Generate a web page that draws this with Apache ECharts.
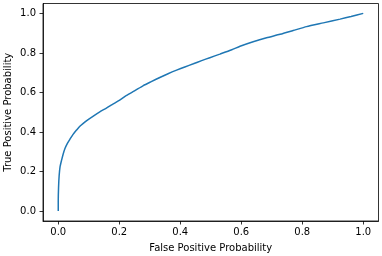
<!DOCTYPE html>
<html>
<head>
<meta charset="utf-8">
<script src="https://cdn.jsdelivr.net/npm/echarts@6/dist/echarts.min.js"></script>
<style>html,body{margin:0;padding:0;background:#fff;}#c{width:382px;height:256px;}</style>
</head>
<body>
<div id="c"></div>
<script>
var fpr = [0, 0, 0.001, 0.003, 0.006, 0.011, 0.016, 0.022, 0.030, 0.038, 0.048, 0.060, 0.070, 0.082, 0.098, 0.115, 0.135, 0.159, 0.178, 0.197, 0.224, 0.250, 0.279, 0.305, 0.333, 0.360, 0.388, 0.415, 0.443, 0.470, 0.497, 0.530, 0.569, 0.596, 0.639, 0.683, 0.727, 0.770, 0.814, 0.869, 0.924, 0.960, 1.0];
var tpr = [0, 0.05, 0.12, 0.18, 0.225, 0.258, 0.288, 0.317, 0.343, 0.363, 0.387, 0.41, 0.428, 0.444, 0.463, 0.481, 0.501, 0.522, 0.540, 0.557, 0.585, 0.608, 0.635, 0.655, 0.676, 0.695, 0.713, 0.729, 0.745, 0.761, 0.776, 0.794, 0.816, 0.834, 0.857, 0.877, 0.894, 0.913, 0.933, 0.952, 0.971, 0.984, 1.0];
var xTicks = [0, 0.2, 0.4, 0.6, 0.8, 1.0];
var yTicks = [0, 0.2, 0.4, 0.6, 0.8, 1.0];
var xName = 'False Positive Probability';
var yName = 'True Positive Probability';

var pts = fpr.map(function (v, i) { return [v, tpr[i]]; });
var font = 'DejaVu Sans';
var chart = echarts.init(document.getElementById('c'), null, {renderer: 'canvas'});
function axisCommon(ticks, name) {
  return {
    type: 'value', min: -0.05, max: 1.05,
    name: name, nameLocation: 'middle', nameMoveOverlap: false,
    nameTextStyle: {fontFamily: font, fontSize: 10, color: '#000'},
    axisLine: {show: true, onZero: false, lineStyle: {color: '#000', width: 0.8}},
    splitLine: {show: false},
    axisTick: {show: true, inside: false, length: 3.5, lineStyle: {color: '#000', width: 0.8}, customValues: ticks},
    axisLabel: {fontFamily: font, fontSize: 10, color: '#000', customValues: ticks,
      formatter: function (v) { return v.toFixed(1); }}
  };
}
var xa = axisCommon(xTicks, xName);
xa.nameGap = 22; xa.axisLabel.margin = 6;
var ya = axisCommon(yTicks, yName);
ya.nameGap = 30; ya.axisLabel.margin = 7;
chart.setOption({
  animation: false,
  grid: {left: 43, right: 3.5, top: 3.5, bottom: 35, show: true, borderColor: '#000', borderWidth: 0.8,
    backgroundColor: 'transparent', containLabel: false, outerBoundsMode: 'none'},
  xAxis: xa,
  yAxis: ya,
  series: [{type: 'line', data: pts, showSymbol: false, smooth: 0.2,
    lineStyle: {color: '#1f77b4', width: 1.5}}]
});
</script>
</body>
</html>
